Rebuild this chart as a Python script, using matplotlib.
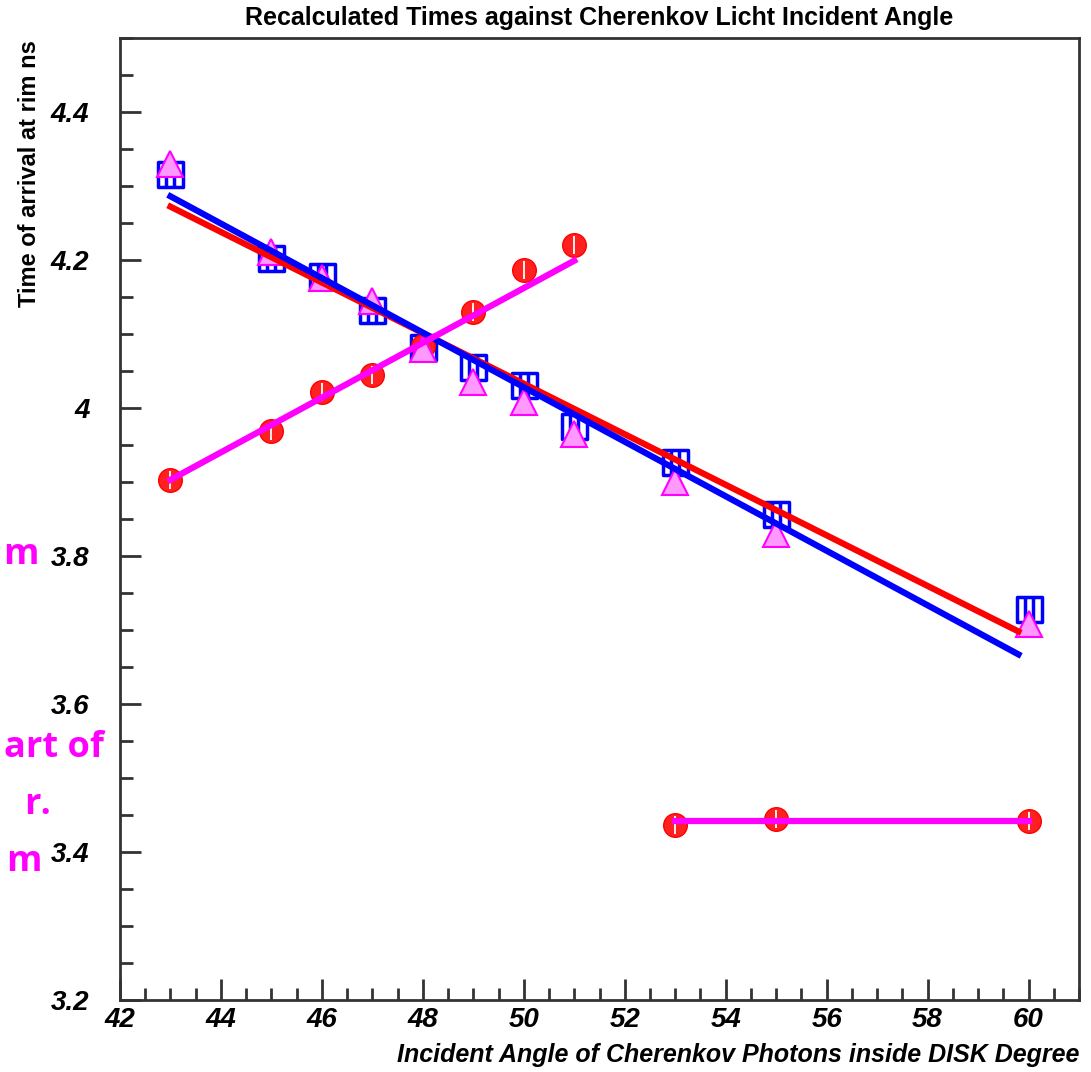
import numpy as np
import matplotlib
matplotlib.use("Agg")
import matplotlib.pyplot as plt
from matplotlib.path import Path
from matplotlib.ticker import MultipleLocator, FixedLocator

# points
angle = [43, 45, 46, 47, 48, 49, 50, 51, 53, 55, 60]
t_square = [4.316, 4.202, 4.178, 4.132, 4.083, 4.056, 4.031, 3.976, 3.927, 3.857, 3.728]
t_triangle = [4.329, 4.211, 4.175, 4.145, 4.080, 4.035, 4.008, 3.965, 3.900, 3.830, 3.708]

angle_c1 = [43, 45, 46, 47, 48, 49, 50, 51]
t_c1 = [3.903, 3.969, 4.021, 4.044, 4.084, 4.130, 4.186, 4.220]
angle_c2 = [53, 55, 60]
t_c2 = [3.437, 3.444, 3.442]

# fitted lines (end points)
fit_blue_x = [43, 59.8]
fit_blue_y = [4.286, 3.667]
fit_red_x = [43, 59.8]
fit_red_y = [4.272, 3.698]
fit_mag1_x = [43, 51]
fit_mag1_y = [3.903, 4.199]
fit_mag2_x = [53, 60]
fit_mag2_y = [3.442, 3.442]

y_ticks = [3.2, 3.4, 3.6, 3.8, 4.0, 4.2, 4.4]
y_ticklabels = ["3.2", "3.4", "3.6", "3.8", "4", "4.2", "4.4"]
x_ticks = [42, 44, 46, 48, 50, 52, 54, 56, 58, 60]

FONT = "Liberation Sans"

# square marker with two vertical stripes
sq_verts = [(-1, -1), (1, -1), (1, 1), (-1, 1), (-1, -1),
            (-0.33, -1), (-0.33, 1), (0.33, -1), (0.33, 1)]
sq_codes = [Path.MOVETO, Path.LINETO, Path.LINETO, Path.LINETO, Path.CLOSEPOLY,
            Path.MOVETO, Path.LINETO, Path.MOVETO, Path.LINETO]
square_marker = Path(sq_verts, sq_codes)

fig = plt.figure(figsize=(10.91, 10.72), dpi=100)
ax = fig.add_axes([0.110, 0.0672, 0.879, 0.8974])

# markers
ax.plot(angle, t_square, linestyle="none", marker=square_marker, markersize=18,
        markerfacecolor="white", markeredgecolor="#0000ff", markeredgewidth=2.5, zorder=3)
ax.plot(angle, t_triangle, linestyle="none", marker="^", markersize=19,
        markerfacecolor="#ff99ff", markeredgecolor="#ff00ff", markeredgewidth=1.5, zorder=4)
for xs, ys in [(angle_c1, t_c1), (angle_c2, t_c2)]:
    ax.plot(xs, ys, linestyle="none", marker="o", markersize=17,
            markerfacecolor="#ff2020", markeredgecolor="#ff0000", zorder=3)
    ax.plot(xs, ys, linestyle="none", marker="|", markersize=13,
            markeredgecolor="white", markeredgewidth=1.3, zorder=3.5)

# fit lines
ax.plot(fit_red_x, fit_red_y, color="#ff0000", lw=4.5, zorder=5)
ax.plot(fit_blue_x, fit_blue_y, color="#0000ff", lw=4.5, zorder=6)
ax.plot(fit_mag1_x, fit_mag1_y, color="#ff00ff", lw=4.5, zorder=6)
ax.plot(fit_mag2_x, fit_mag2_y, color="#ff00ff", lw=4.5, zorder=6)

ax.set_xlim(42, 61)
ax.set_ylim(3.2, 4.5)
ax.xaxis.set_major_locator(FixedLocator(x_ticks))
ax.xaxis.set_minor_locator(MultipleLocator(0.5))
ax.yaxis.set_major_locator(FixedLocator(y_ticks))
ax.yaxis.set_minor_locator(MultipleLocator(0.05))
ax.set_yticklabels(y_ticklabels)
ax.tick_params(which="both", direction="in", top=False, right=False, color="#333333")
ax.tick_params(which="major", length=15, width=2)
ax.tick_params(which="minor", length=9, width=2)
ax.tick_params(axis="y", pad=22)
ax.tick_params(axis="x", pad=5)
for lab in ax.get_xticklabels() + ax.get_yticklabels():
    lab.set_fontfamily(FONT)
    lab.set_fontweight("bold")
    lab.set_fontstyle("italic")
    lab.set_fontsize(20)
for s in ax.spines.values():
    s.set_linewidth(2)
    s.set_color("#333333")

fig.text(0.549, 0.983, "Recalculated Times against Cherenkov Licht Incident Angle",
         ha="center", va="center", fontsize=18, fontweight="bold", family=FONT)
fig.text(0.989, 0.016, "Incident Angle of Cherenkov Photons inside DISK Degree",
         ha="right", va="center", fontsize=18, fontweight="bold", fontstyle="italic", family=FONT)
fig.text(0.027, 0.963, "Time of arrival at rim ns", rotation=90, ha="center", va="top",
         fontsize=17, fontweight="bold", family=FONT)

# slide text partly hidden on the left
for txt, xr, yc in [("m", 0.035, 0.482), ("art of", 0.095, 0.302),
                    ("r.", 0.047, 0.249), ("m", 0.038, 0.196)]:
    fig.text(xr, yc, txt, ha="right", va="center", fontsize=26, fontweight="bold",
             color="#ff00ff", family="Open Sans")

fig.savefig("out.png", dpi=100)
